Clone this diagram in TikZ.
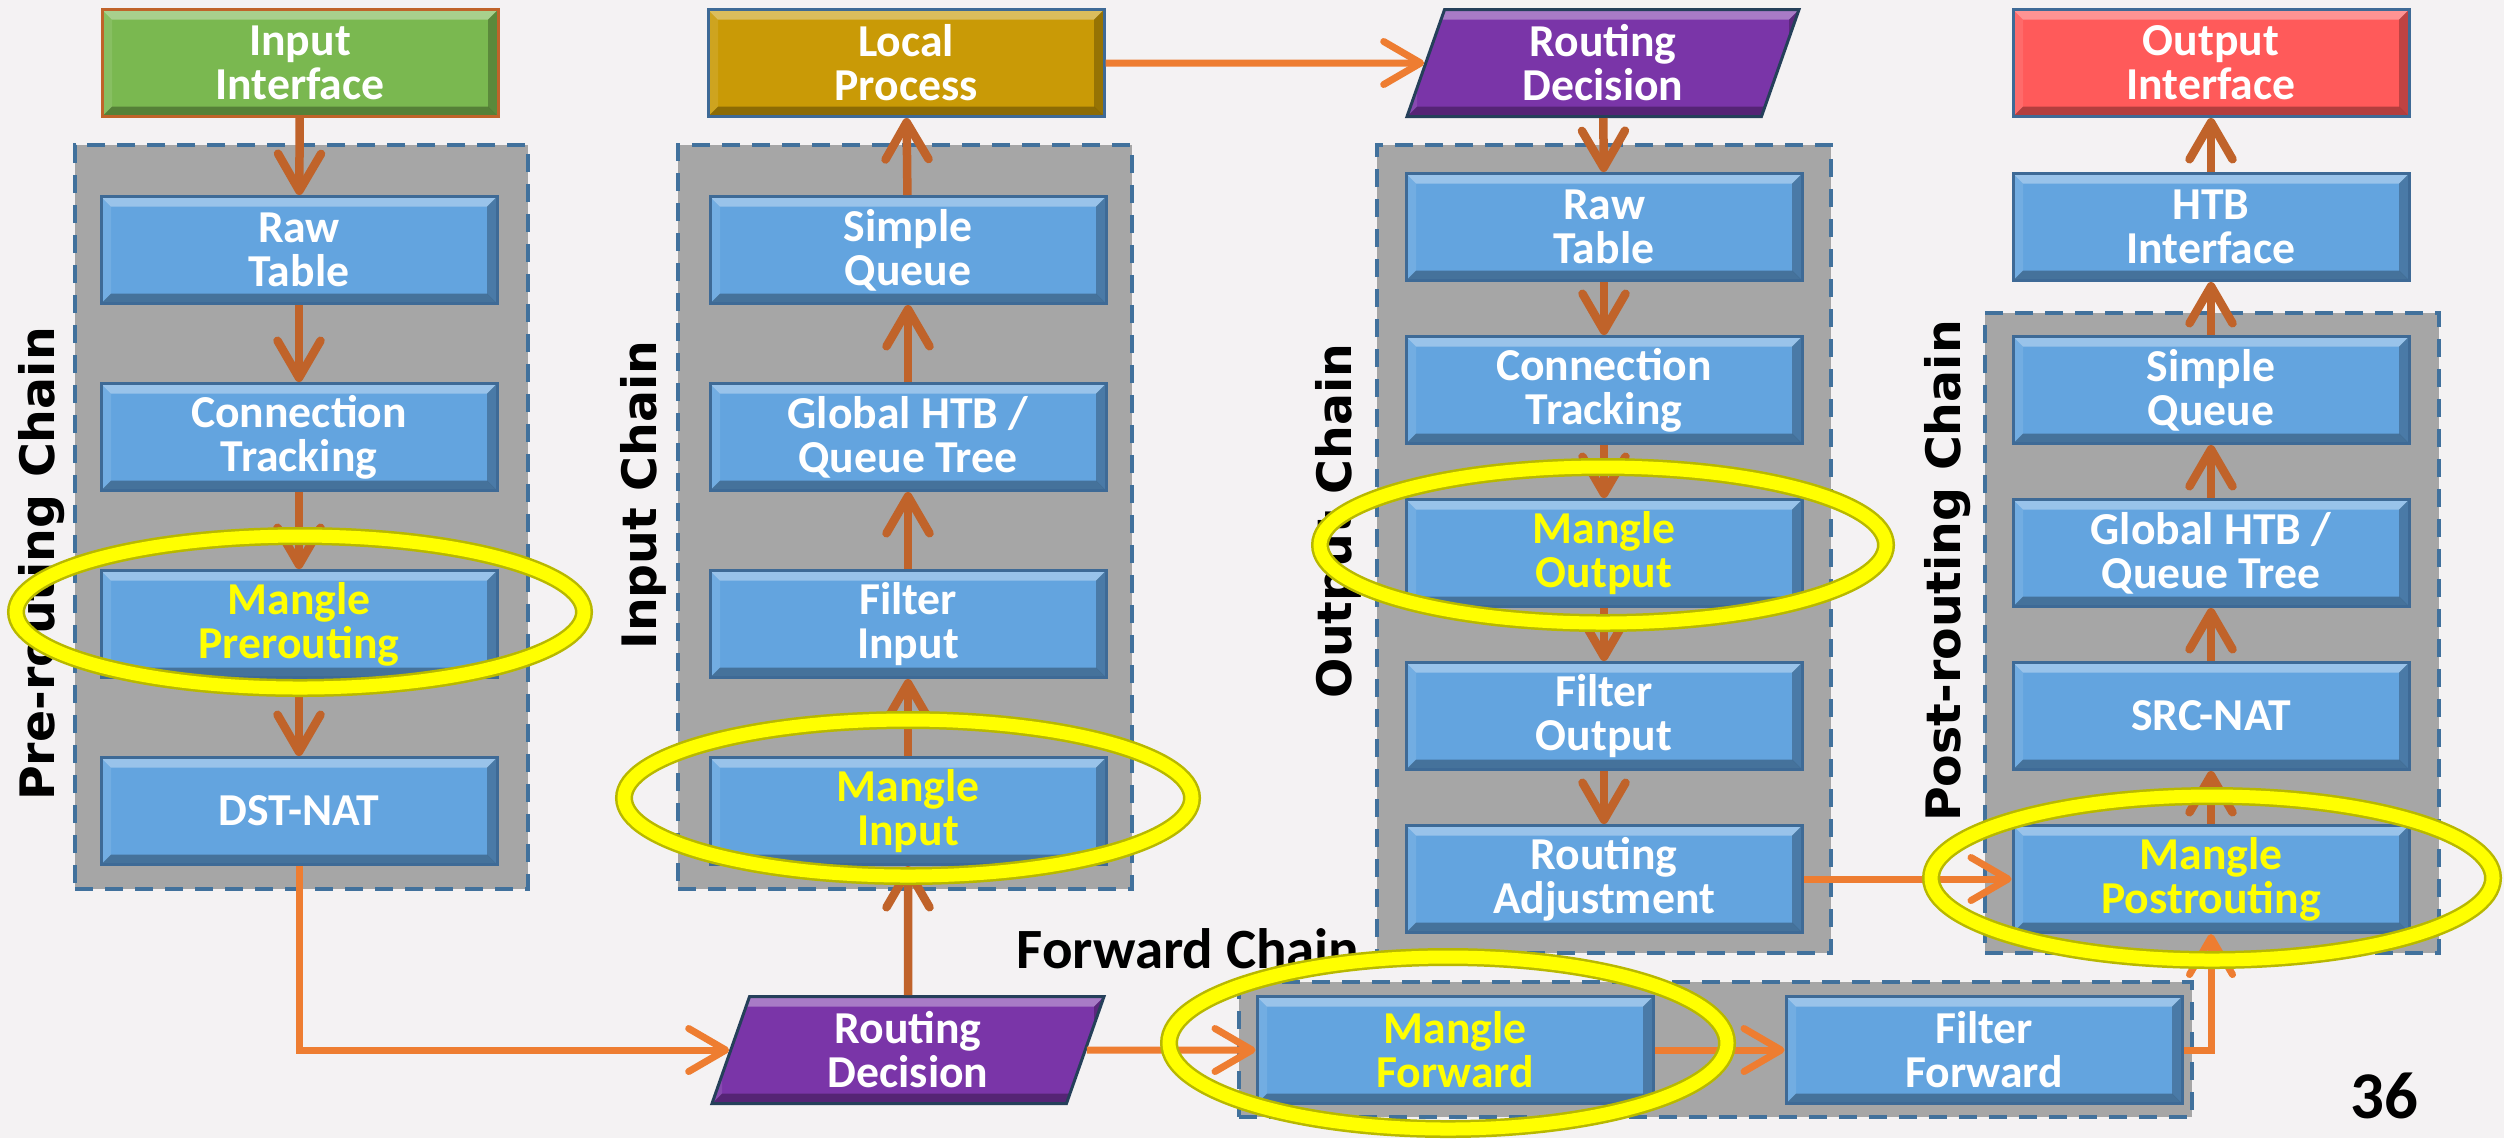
\documentclass[tikz,border=0pt]{standalone}
\usepackage{fontspec}
\setmainfont{Carlito}
\newfontfamily\chainfont{DejaVu Sans}
\usetikzlibrary{arrows.meta,positioning,fit,backgrounds,calc,shapes.geometric}

\definecolor{pageBg}{HTML}{F4F2F3}
\definecolor{boxBlue}{HTML}{63A4DF}
\definecolor{edgeBlue}{HTML}{3E6A96}
\definecolor{ifGreen}{HTML}{7AB850}
\definecolor{procGold}{HTML}{C99A06}
\definecolor{routePurple}{HTML}{7A35A8}
\definecolor{outRed}{HTML}{FF5A5A}
\definecolor{chainGray}{HTML}{A6A6A6}
\definecolor{dashBlue}{HTML}{41719C}
\definecolor{flowBrown}{HTML}{C0632A}
\definecolor{flowOrange}{HTML}{EE7D31}
\definecolor{ringYellow}{HTML}{FFFF00}
\definecolor{ringShade}{HTML}{B8B800}

\tikzset{
  % raised edges on the boxes
  bevel/.style={path picture={
    \coordinate (bnw) at (path picture bounding box.north west);
    \coordinate (bse) at (path picture bounding box.south east);
    \fill[white,opacity=.35] (bnw) -- (bse |- bnw) -- ($(bse |- bnw)+(-10,10)$) -- ($(bnw)+(10,10)$) -- cycle;
    \fill[black,opacity=.25] (bse |- bnw) -- (bse) -- ($(bse)+(-10,-10)$) -- ($(bse |- bnw)+(-10,10)$) -- cycle;
    \fill[black,opacity=.3] (bse) -- (bnw |- bse) -- ($(bnw |- bse)+(10,-10)$) -- ($(bse)+(-10,-10)$) -- cycle;
    \fill[white,opacity=.1] (bnw |- bse) -- (bnw) -- ($(bnw)+(10,10)$) -- ($(bnw |- bse)+(10,-10)$) -- cycle;
  }},
  box/.style={rectangle, draw=edgeBlue, line width=0.3mm, fill=boxBlue, bevel,
    minimum width=39.6mm, minimum height=10.7mm, inner sep=0pt, align=center,
    text=white, font=\fontsize{13}{12.5}\selectfont\bfseries},
  mangle/.style={box, text=ringYellow},
  route/.style={box, trapezium, trapezium left angle=76, trapezium right angle=104,
    trapezium stretches=true, fill=routePurple, draw=edgeBlue!60!black, minimum width=39.4mm},
  chain/.style={draw=dashBlue, line width=0.45mm, dash pattern=on 1.8mm off 1.2mm,
    fill=chainGray, inner sep=0pt},
  chainlbl/.style={font=\chainfont\bfseries\fontsize{13.5}{14}\selectfont, rotate=90},
  flow/.style={draw=flowBrown, line width=0.85mm, -{Straight Barb[length=3.7mm,width=4.3mm,round]}},
  link/.style={flow, draw=flowOrange, line width=0.7mm},
  ring/.style={draw=ringYellow, line width=1.3mm, preaction={draw=ringShade, line width=1.8mm}},
}

\begin{document}
\begin{tikzpicture}[x=0.1mm, y=-0.1mm, node distance=7.7mm]
  \useasboundingbox (0,0) rectangle (2504,1138);

  % top row
  \node[box, fill=ifGreen, draw=flowBrown] (inif) at (300,63) {Input\\Interface};
  \node[box, fill=procGold] (lproc) at (906,63) {Local\\Process};
  \node[route] (rdtop) at (1603,63) {Routing\\Decision};
  \node[box, fill=outRed] (outif) at (2211,63) {Output\\Interface};

  % pre-routing chain
  \node[box] (pre1) at (299,250) {Raw\\Table};
  \node[box, below=of pre1] (pre2) {Connection\\Tracking};
  \node[mangle, below=of pre2] (pre3) {Mangle\\Prerouting};
  \node[box, below=of pre3] (pre4) {DST-NAT};

  % input chain
  \node[box] (in1) at (908,250) {Simple\\Queue};
  \node[box, below=of in1] (in2) {Global HTB /\\Queue Tree};
  \node[box, below=of in2] (in3) {Filter\\Input};
  \node[mangle, below=of in3] (in4) {Mangle\\Input};

  \begin{scope}[node distance=5.3mm]
    % output chain
    \node[box] (out1) at (1604,227) {Raw\\Table};
    \node[box, below=of out1] (out2) {Connection\\Tracking};
    \node[mangle, below=of out2] (out3) {Mangle\\Output};
    \node[box, below=of out3] (out4) {Filter\\Output};
    \node[box, below=of out4] (out5) {Routing\\Adjustment};
    % post-routing chain
    \node[box] (htb) at (2211,227) {HTB\\Interface};
    \node[box, below=of htb] (post1) {Simple\\Queue};
    \node[box, below=of post1] (post2) {Global HTB /\\Queue Tree};
    \node[box, below=of post2] (post3) {SRC-NAT};
    \node[mangle, below=of post3] (post4) {Mangle\\Postrouting};
  \end{scope}

  % forward chain
  \node[route] (rdbot) at (908,1050) {Routing\\Decision};
  \node[mangle] (fwd1) at (1455,1050) {Mangle\\Forward};
  \node[box, right=13mm of fwd1] (fwd2) {Filter\\Forward};

  \begin{scope}[on background layer]
    \fill[pageBg] (0,0) rectangle (2504,1138);
    \node[chain, fit={(75,145) (528,889)}] (prebox) {};
    \node[chain, fit={(678,145) (1132,889)}] (inbox) {};
    \node[chain, fit={(1377,145) (1831,953)}] (outbox) {};
    \node[chain, fit={(1985,313) (2439,953)}] (postbox) {};
    \node[chain, fit={(1239,982) (2192,1117)}] (fwdbox) {};
  \end{scope}

  \node[chainlbl] (lblpre) at (42,564) {Pre-routing Chain};
  \node[chainlbl] (lblin) at (643,495) {Input Chain};
  \node[chainlbl] (lblout) at (1338,521) {Output Chain};
  \node[chainlbl] (lblpost) at (1948,571) {Post-routing Chain};
  \node[font=\bfseries\fontsize{16.2}{18}\selectfont, anchor=base] (lblfwd) at (1188,968) {Forward Chain};
  \node[font=\bfseries\fontsize{19}{20}\selectfont] (pageno) at (2384,1096) {36};

  % packet flow
  \draw[flow] (inif) -- (pre1);
  \foreach \a/\b in {pre1/pre2, pre2/pre3, pre3/pre4}
    \draw[flow] (\a) -- (\b);
  \draw[link] (pre4) |- (rdbot);
  \draw[flow] (rdbot) -- (in4);
  \foreach \a/\b in {in4/in3, in3/in2, in2/in1, in1/lproc}
    \draw[flow] (\a) -- (\b);
  \draw[link] (lproc) -- (rdtop);
  \draw[flow] (rdtop) -- (out1);
  \foreach \a/\b in {out1/out2, out2/out3, out3/out4, out4/out5}
    \draw[flow] (\a) -- (\b);
  \draw[link] (out5) -- (post4);
  \draw[link] (rdbot) -- (fwd1);
  \draw[link] (fwd1) -- (fwd2);
  \draw[link] (fwd2) -| (post4);
  \foreach \a/\b in {post4/post3, post3/post2, post2/post1, post1/htb, htb/outif}
    \draw[flow] (\a) -- (\b);

  % mangle stages
  \draw[ring] (300,612) ellipse (284 and 76);
  \draw[ring] (908,798) ellipse (284 and 78);
  \draw[ring] (1603,545) ellipse (283 and 78);
  \draw[ring] (2212,878) ellipse (281 and 82);
  \draw[ring] (1448,1043) ellipse (279 and 86);
\end{tikzpicture}
\end{document}
